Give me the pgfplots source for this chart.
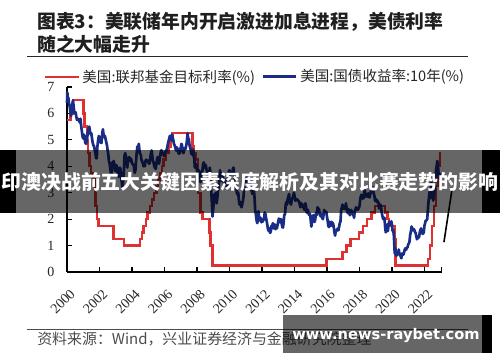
\documentclass[border=0pt]{standalone}
\usepackage{fontspec}
\setmainfont{Liberation Serif}
\newfontfamily\cjk{Noto Sans CJK SC}
\newfontfamily\wm{DejaVu Sans}
\usepackage{pgfplots}
\pgfplotsset{compat=1.18}
\definecolor{fedred}{RGB}{222,50,50}
\definecolor{tsyblue}{RGB}{25,45,135}
\begin{document}
\begin{tikzpicture}
\useasboundingbox (0,0) rectangle (375pt,271.5pt);
\begin{axis}[
  at={(50.25pt,67.5pt)}, anchor=south west,
  scale only axis, width=281pt, height=138.75pt,
  xmin=2000, xmax=2023.06, ymin=0, ymax=7,
  axis lines=left, axis line style={-, line width=0.9pt},
  tick align=inside, major tick length=3.5pt,
  tick style={line width=0.9pt, black},
  xtick={2000,2002,...,2022}, ytick={0,1,...,7},
  extra x ticks={2023.06}, extra x tick labels={},
  /pgf/number format/1000 sep={},
  /pgf/number format/assume math mode=true,
  ticklabel style={font=\rmfamily\fontsize{10.5}{12}\selectfont, text=black!85},
  xticklabel style={rotate=45, anchor=east, xshift=-4pt, yshift=-13.5pt},
  yticklabel style={xshift=-6pt},
  clip=false,
  legend style={at={(-0.062,1.055)}, anchor=west, draw=none, fill=none,
    font=\cjk\fontsize{10.9}{12}\selectfont, text=black!85, inner sep=0pt,
    cells={anchor=west}, /tikz/every even column/.append style={column sep=3pt}},
  legend columns=2,
  legend image code/.code={\draw[#1] (0pt,0pt) -- (25pt,0pt);},
]
\addplot[fedred, line width=1.8pt, const plot] coordinates {
(2000.00,5.75)(2000.22,6.00)(2000.37,6.50)(2001.01,6.00)(2001.08,5.50)(2001.22,5.00)(2001.30,4.50)(2001.38,4.00)(2001.48,3.75)(2001.64,3.50)(2001.71,3.00)(2001.75,2.50)(2001.86,2.00)(2001.95,1.75)(2002.85,1.25)(2003.49,1.00)(2004.50,1.25)(2004.61,1.50)(2004.72,1.75)(2004.86,2.00)(2004.95,2.25)(2005.09,2.50)(2005.22,2.75)(2005.34,3.00)(2005.50,3.25)(2005.61,3.50)(2005.72,3.75)(2005.84,4.00)(2005.95,4.25)(2006.08,4.50)(2006.24,4.75)(2006.36,5.00)(2006.50,5.25)(2007.72,4.75)(2007.83,4.50)(2007.95,4.25)(2008.06,3.50)(2008.08,3.00)(2008.21,2.25)(2008.33,2.00)(2008.77,1.50)(2008.83,1.00)(2008.96,0.25)(2015.96,0.50)(2016.96,0.75)(2017.21,1.00)(2017.46,1.25)(2017.96,1.50)(2018.22,1.75)(2018.46,2.00)(2018.74,2.25)(2018.97,2.50)(2019.58,2.25)(2019.72,2.00)(2019.83,1.75)(2020.17,1.25)(2020.21,0.25)(2022.21,0.50)(2022.34,1.00)(2022.46,1.75)(2022.57,2.50)(2022.72,3.25)(2022.84,4.00)(2022.96,4.50)(2022.99,4.50)};
\addlegendentry{美国:联邦基金目标利率(\%)}
\addplot[tsyblue, line width=2pt, line join=round] coordinates {
(2000.00,6.40)(2000.02,6.80)(2000.06,6.55)(2000.08,6.60)(2000.12,6.40)(2000.17,6.25)(2000.21,6.05)(2000.25,5.90)(2000.29,6.10)(2000.33,6.35)(2000.37,6.50)(2000.42,6.20)(2000.46,6.00)(2000.50,6.05)(2000.54,6.02)(2000.58,5.85)(2000.62,5.75)(2000.67,5.80)(2000.71,5.75)(2000.75,5.75)(2000.79,5.65)(2000.83,5.80)(2000.87,5.55)(2000.92,5.30)(2000.96,5.12)
(2001.00,5.05)(2001.04,5.20)(2001.08,5.15)(2001.12,4.90)(2001.17,4.85)(2001.21,4.95)(2001.25,5.10)(2001.29,5.35)(2001.33,5.45)(2001.37,5.50)(2001.42,5.30)(2001.46,5.20)(2001.50,5.25)(2001.54,5.05)(2001.58,4.90)(2001.62,4.80)(2001.67,4.75)(2001.71,4.60)(2001.75,4.50)(2001.79,4.30)(2001.83,4.30)(2001.87,4.75)(2001.92,5.00)(2001.96,5.15)
(2002.00,5.05)(2002.04,4.95)(2002.08,4.90)(2002.12,4.88)(2002.17,5.25)(2002.21,5.40)(2002.25,5.20)(2002.29,5.10)(2002.33,5.15)(2002.37,5.05)(2002.42,4.90)(2002.46,4.80)(2002.50,4.60)(2002.54,4.45)(2002.58,4.20)(2002.62,4.10)(2002.67,3.90)(2002.71,3.65)(2002.75,3.75)(2002.79,4.15)(2002.83,4.00)(2002.87,4.20)(2002.92,4.05)(2002.96,3.82)
(2003.00,4.00)(2003.04,4.05)(2003.08,3.90)(2003.12,3.70)(2003.17,3.60)(2003.21,3.90)(2003.25,3.95)(2003.29,3.90)(2003.33,3.60)(2003.37,3.40)(2003.42,3.15)(2003.46,3.50)(2003.50,3.80)(2003.54,4.40)(2003.58,4.50)(2003.62,4.40)(2003.67,4.25)(2003.71,3.95)(2003.75,4.30)(2003.79,4.30)(2003.83,4.35)(2003.87,4.20)(2003.92,4.30)(2003.96,4.25)
(2004.00,4.10)(2004.04,4.10)(2004.08,4.05)(2004.12,4.00)(2004.17,3.75)(2004.21,3.85)(2004.25,4.20)(2004.29,4.50)(2004.33,4.75)(2004.37,4.70)(2004.42,4.85)(2004.46,4.60)(2004.50,4.45)(2004.54,4.45)(2004.58,4.25)(2004.62,4.20)(2004.67,4.10)(2004.71,4.00)(2004.75,4.05)(2004.79,4.00)(2004.83,4.20)(2004.87,4.25)(2004.92,4.20)(2004.96,4.22)
(2005.00,4.20)(2005.04,4.10)(2005.08,4.10)(2005.12,4.30)(2005.17,4.50)(2005.21,4.60)(2005.25,4.40)(2005.29,4.20)(2005.33,4.15)(2005.37,4.00)(2005.42,3.95)(2005.46,3.90)(2005.50,4.10)(2005.54,4.25)(2005.58,4.35)(2005.62,4.15)(2005.67,4.10)(2005.71,4.30)(2005.75,4.45)(2005.79,4.60)(2005.83,4.60)(2005.87,4.45)(2005.92,4.50)(2005.96,4.40)
(2006.00,4.38)(2006.04,4.52)(2006.08,4.58)(2006.12,4.60)(2006.17,4.70)(2006.21,4.85)(2006.25,4.95)(2006.29,5.05)(2006.33,5.15)(2006.37,5.05)(2006.42,4.98)(2006.46,5.20)(2006.50,5.12)(2006.54,5.00)(2006.58,4.85)(2006.62,4.80)(2006.67,4.70)(2006.71,4.60)(2006.75,4.72)(2006.79,4.68)(2006.83,4.60)(2006.87,4.48)(2006.92,4.48)(2006.96,4.65)
(2007.00,4.70)(2007.04,4.85)(2007.08,4.80)(2007.12,4.55)(2007.17,4.50)(2007.21,4.62)(2007.25,4.70)(2007.29,4.65)(2007.33,4.75)(2007.37,4.90)(2007.42,5.25)(2007.46,5.05)(2007.50,5.05)(2007.54,4.80)(2007.58,4.70)(2007.62,4.60)(2007.67,4.45)(2007.71,4.65)(2007.75,4.65)(2007.79,4.40)(2007.83,4.30)(2007.87,3.95)(2007.92,4.10)(2007.96,4.05)
(2008.00,3.85)(2008.04,3.55)(2008.08,3.65)(2008.12,3.85)(2008.17,3.45)(2008.21,3.40)(2008.25,3.60)(2008.29,3.80)(2008.33,3.80)(2008.37,4.05)(2008.42,4.15)(2008.46,3.95)(2008.50,3.95)(2008.54,4.05)(2008.58,3.90)(2008.62,3.80)(2008.67,3.60)(2008.71,3.80)(2008.75,3.70)(2008.79,3.95)(2008.83,3.75)(2008.87,3.15)(2008.92,2.60)(2008.96,2.10)
(2009.00,2.40)(2009.04,2.70)(2009.08,2.95)(2009.12,2.90)(2009.17,3.00)(2009.21,2.60)(2009.25,2.80)(2009.29,3.05)(2009.33,3.20)(2009.37,3.45)(2009.42,3.85)(2009.46,3.55)(2009.50,3.45)(2009.54,3.65)(2009.58,3.75)(2009.62,3.45)(2009.67,3.35)(2009.71,3.30)(2009.75,3.25)(2009.79,3.50)(2009.83,3.45)(2009.87,3.25)(2009.92,3.50)(2009.96,3.80)
(2010.00,3.85)(2010.04,3.60)(2010.08,3.65)(2010.12,3.70)(2010.17,3.70)(2010.21,3.90)(2010.25,3.95)(2010.29,3.70)(2010.33,3.45)(2010.37,3.25)(2010.42,3.25)(2010.46,2.95)(2010.50,2.95)(2010.54,3.00)(2010.58,2.70)(2010.62,2.55)(2010.67,2.65)(2010.71,2.50)(2010.75,2.45)(2010.79,2.60)(2010.83,2.70)(2010.87,2.90)(2010.92,3.30)(2010.96,3.35)
(2011.00,3.40)(2011.04,3.40)(2011.08,3.65)(2011.12,3.50)(2011.17,3.35)(2011.21,3.45)(2011.25,3.55)(2011.29,3.30)(2011.33,3.15)(2011.37,3.05)(2011.42,2.95)(2011.46,3.10)(2011.50,3.10)(2011.54,2.85)(2011.58,2.35)(2011.62,2.20)(2011.67,1.95)(2011.71,1.85)(2011.75,2.00)(2011.79,2.30)(2011.83,2.00)(2011.87,1.95)(2011.92,2.05)(2011.96,1.88)
(2012.00,1.95)(2012.04,1.90)(2012.08,2.00)(2012.12,1.98)(2012.17,2.25)(2012.21,2.20)(2012.25,2.05)(2012.29,1.92)(2012.33,1.78)(2012.37,1.62)(2012.42,1.55)(2012.46,1.65)(2012.50,1.48)(2012.54,1.52)(2012.58,1.75)(2012.62,1.65)(2012.67,1.85)(2012.71,1.65)(2012.75,1.75)(2012.79,1.80)(2012.83,1.62)(2012.87,1.65)(2012.92,1.65)(2012.96,1.78)
(2013.00,1.90)(2013.04,2.02)(2013.08,2.00)(2013.12,1.88)(2013.17,2.00)(2013.21,1.85)(2013.25,1.70)(2013.29,1.68)(2013.33,1.85)(2013.37,2.15)(2013.42,2.20)(2013.46,2.55)(2013.50,2.65)(2013.54,2.55)(2013.58,2.75)(2013.62,2.85)(2013.67,2.95)(2013.71,2.65)(2013.75,2.60)(2013.79,2.55)(2013.83,2.75)(2013.87,2.80)(2013.92,2.85)(2013.96,3.00)
(2014.00,2.90)(2014.04,2.70)(2014.08,2.70)(2014.12,2.75)(2014.17,2.75)(2014.21,2.70)(2014.25,2.70)(2014.29,2.65)(2014.33,2.55)(2014.37,2.45)(2014.42,2.60)(2014.46,2.55)(2014.50,2.55)(2014.54,2.48)(2014.58,2.40)(2014.62,2.35)(2014.67,2.60)(2014.71,2.50)(2014.75,2.25)(2014.79,2.30)(2014.83,2.35)(2014.87,2.20)(2014.92,2.15)(2014.96,2.20)
(2015.00,1.95)(2015.04,1.72)(2015.08,1.95)(2015.12,2.10)(2015.17,2.15)(2015.21,1.90)(2015.25,1.90)(2015.29,2.05)(2015.33,2.25)(2015.37,2.15)(2015.42,2.45)(2015.46,2.35)(2015.50,2.40)(2015.54,2.25)(2015.58,2.15)(2015.62,2.10)(2015.67,2.20)(2015.71,2.05)(2015.75,2.00)(2015.79,2.15)(2015.83,2.35)(2015.87,2.22)(2015.92,2.25)(2015.96,2.28)
(2016.00,2.10)(2016.04,1.95)(2016.08,1.75)(2016.12,1.70)(2016.17,1.90)(2016.21,1.85)(2016.25,1.75)(2016.29,1.90)(2016.33,1.75)(2016.37,1.85)(2016.42,1.70)(2016.46,1.50)(2016.50,1.38)(2016.54,1.55)(2016.58,1.55)(2016.62,1.60)(2016.67,1.65)(2016.71,1.58)(2016.75,1.72)(2016.79,1.85)(2016.83,1.90)(2016.87,2.30)(2016.92,2.45)(2016.96,2.55)
(2017.00,2.40)(2017.04,2.48)(2017.08,2.42)(2017.12,2.38)(2017.17,2.60)(2017.21,2.40)(2017.25,2.30)(2017.29,2.22)(2017.33,2.38)(2017.37,2.22)(2017.42,2.15)(2017.46,2.20)(2017.50,2.35)(2017.54,2.25)(2017.58,2.25)(2017.62,2.18)(2017.67,2.05)(2017.71,2.30)(2017.75,2.35)(2017.79,2.45)(2017.83,2.35)(2017.87,2.35)(2017.92,2.38)(2017.96,2.42)
(2018.00,2.48)(2018.04,2.70)(2018.08,2.85)(2018.12,2.92)(2018.17,2.85)(2018.21,2.78)(2018.25,2.80)(2018.29,2.98)(2018.33,3.10)(2018.37,2.85)(2018.42,2.95)(2018.46,2.88)(2018.50,2.85)(2018.54,2.98)(2018.58,2.88)(2018.62,2.82)(2018.67,2.95)(2018.71,3.08)(2018.75,3.22)(2018.79,3.12)(2018.83,3.20)(2018.87,3.00)(2018.92,2.88)(2018.96,2.70)
(2019.00,2.68)(2019.04,2.75)(2019.08,2.65)(2019.12,2.68)(2019.17,2.62)(2019.21,2.40)(2019.25,2.55)(2019.29,2.55)(2019.33,2.45)(2019.37,2.25)(2019.42,2.10)(2019.46,2.00)(2019.50,2.05)(2019.54,2.05)(2019.58,1.70)(2019.62,1.50)(2019.67,1.65)(2019.71,1.80)(2019.75,1.55)(2019.79,1.80)(2019.83,1.90)(2019.87,1.78)(2019.92,1.82)(2019.96,1.92)
(2020.00,1.80)(2020.04,1.55)(2020.08,1.60)(2020.12,1.35)(2020.17,0.70)(2020.21,0.90)(2020.25,0.62)(2020.29,0.62)(2020.33,0.68)(2020.37,0.68)(2020.42,0.85)(2020.46,0.68)(2020.50,0.65)(2020.54,0.58)(2020.58,0.52)(2020.62,0.70)(2020.67,0.68)(2020.71,0.66)(2020.75,0.75)(2020.79,0.85)(2020.83,0.90)(2020.87,0.84)(2020.92,0.92)(2020.96,0.93)
(2021.00,1.05)(2021.04,1.08)(2021.08,1.15)(2021.12,1.40)(2021.17,1.55)(2021.21,1.72)(2021.25,1.65)(2021.29,1.58)(2021.33,1.62)(2021.37,1.60)(2021.42,1.50)(2021.46,1.48)(2021.50,1.35)(2021.54,1.24)(2021.58,1.28)(2021.62,1.30)(2021.67,1.32)(2021.71,1.50)(2021.75,1.58)(2021.79,1.65)(2021.83,1.55)(2021.87,1.45)(2021.92,1.45)(2021.96,1.50)
(2022.00,1.75)(2022.04,1.85)(2022.08,1.95)(2022.12,1.95)(2022.17,2.00)(2022.21,2.35)(2022.25,2.65)(2022.29,2.90)(2022.33,3.05)(2022.37,2.80)(2022.42,3.40)(2022.46,3.10)(2022.50,2.85)(2022.54,2.70)(2022.58,2.85)(2022.62,3.10)(2022.67,3.45)(2022.71,3.85)(2022.75,4.00)(2022.79,4.20)(2022.83,4.05)(2022.87,3.70)(2022.92,3.55)(2022.96,3.75)};
\addlegendentry{美国:国债收益率:10年(\%)}
\addplot[black, line width=1.2pt, forget plot] coordinates {(2023.20,1.13)(2023.69,3.10)};
\end{axis}
\begin{scope}[x=0.75pt,y=-0.75pt,yshift=271.5pt]
  % title
  \node[anchor=west, inner sep=0pt, text=black!88, font=\cjk\bfseries\fontsize{14.1}{16}\selectfont] at (37,22) {图表3：美联储年内开启激进加息进程，美债利率};
  \node[anchor=west, inner sep=0pt, text=black!88, font=\cjk\bfseries\fontsize{14.1}{16}\selectfont] at (37,44) {随之大幅走升};
  \draw[line width=0.75pt, black!85] (27,56) -- (468,56);
  % source
  \draw[line width=0.75pt, black!70] (27,329) -- (468,329);
  \node[anchor=west, inner sep=0pt, text=black!70, font=\cjk\fontsize{11.2}{13}\selectfont] at (37,339) {资料来源：Wind，兴业证券经济与金融研究院整理};
  % banner overlay
  \fill[black, opacity=0.6] (16,150) rectangle (482,213);
  \fill[black] (0,150) rectangle (16,213);
  \fill[black] (482,150) rectangle (500,213);
  \node[inner sep=0pt, text=white, font=\cjk\bfseries\fontsize{14.9}{16}\selectfont] at (250,182) {印澳决战前五大关键因素深度解析及其对比赛走势的影响};
  % watermark
  \fill[black, opacity=0.6] (283,315) rectangle (482,353);
  \fill[black] (482,315) rectangle (492,353);
  \node[inner sep=0pt, text=white, font=\wm\bfseries\fontsize{11}{13}\selectfont] at (386,336) {www.news-raybet.com};
\end{scope}
\end{tikzpicture}
\end{document}
